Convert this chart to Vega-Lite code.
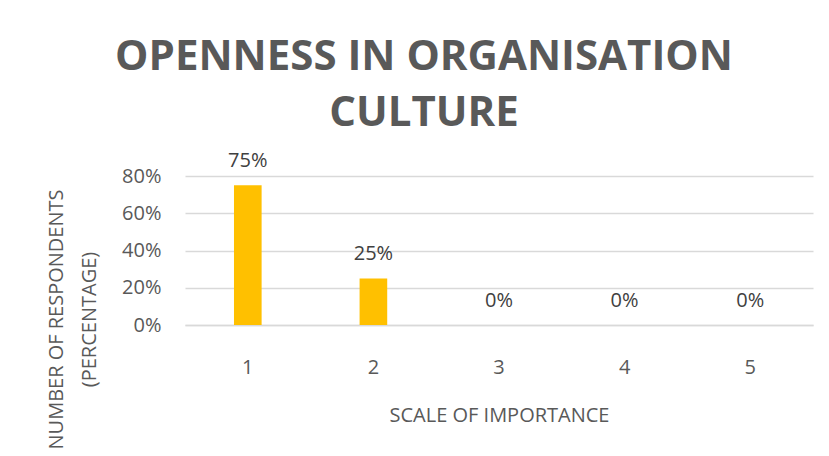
{
  "$schema": "https://vega.github.io/schema/vega-lite/v6.json",
  "autosize": {"type": "none"},
  "width": 628,
  "height": 149,
  "padding": {"left": 185, "top": 176, "right": 16, "bottom": 131},
  "background": "white",
  "config": {
    "view": {"stroke": null},
    "font": "Open Sans"
  },
  "title": {
    "text": ["OPENNESS IN ORGANISATION", "CULTURE"],
    "font": "Open Sans",
    "fontSize": 42,
    "fontWeight": "bold",
    "color": "#595959",
    "anchor": "middle",
    "dx": -75,
    "lineHeight": 56,
    "offset": 16
  },
  "data": {
    "values": [
      {"scale": "1", "pct": 0.75},
      {"scale": "2", "pct": 0.25},
      {"scale": "3", "pct": 0},
      {"scale": "4", "pct": 0},
      {"scale": "5", "pct": 0}
    ]
  },
  "encoding": {
    "x": {
      "field": "scale",
      "type": "ordinal",
      "sort": null,
      "scale": {"paddingInner": 0.78, "paddingOuter": 0.39},
      "axis": {
        "title": "SCALE OF IMPORTANCE",
        "titleFont": "Open Sans",
        "titleFontSize": 20,
        "titleFontWeight": "normal",
        "titleColor": "#595959",
        "titlePadding": 28,
        "labelAngle": 0,
        "labelFont": "Open Sans",
        "labelFontSize": 20,
        "labelColor": "#595959",
        "labelPadding": 32,
        "ticks": false,
        "domainColor": "#d9d9d9",
        "domainWidth": 1.5
      }
    },
    "y": {
      "field": "pct",
      "type": "quantitative",
      "scale": {"domain": [0, 0.8], "nice": false},
      "axis": {
        "values": [0, 0.2, 0.4, 0.6, 0.8],
        "format": ".0%",
        "title": ["NUMBER OF RESPONDENTS", "(PERCENTAGE)"],
        "titleFont": "Open Sans",
        "titleFontSize": 20,
        "titleFontWeight": "normal",
        "titleColor": "#595959",
        "titleAngle": -90,
        "titleAlign": "center",
        "titleBaseline": "middle",
        "titleLineHeight": 33,
        "titleX": -129,
        "titleY": 143,
        "labelFont": "Open Sans",
        "labelFontSize": 20,
        "labelColor": "#595959",
        "labelPadding": 24,
        "ticks": false,
        "domain": false,
        "grid": true,
        "gridColor": "#d9d9d9",
        "gridWidth": 1.5
      }
    }
  },
  "layer": [
    {"mark": {"type": "bar", "color": "#FFC000"}},
    {
      "mark": {"type": "text", "baseline": "alphabetic", "dy": -18, "fontSize": 20, "font": "Open Sans", "color": "#404040"},
      "encoding": {"text": {"field": "pct", "type": "quantitative", "format": ".0%"}}
    }
  ]
}
